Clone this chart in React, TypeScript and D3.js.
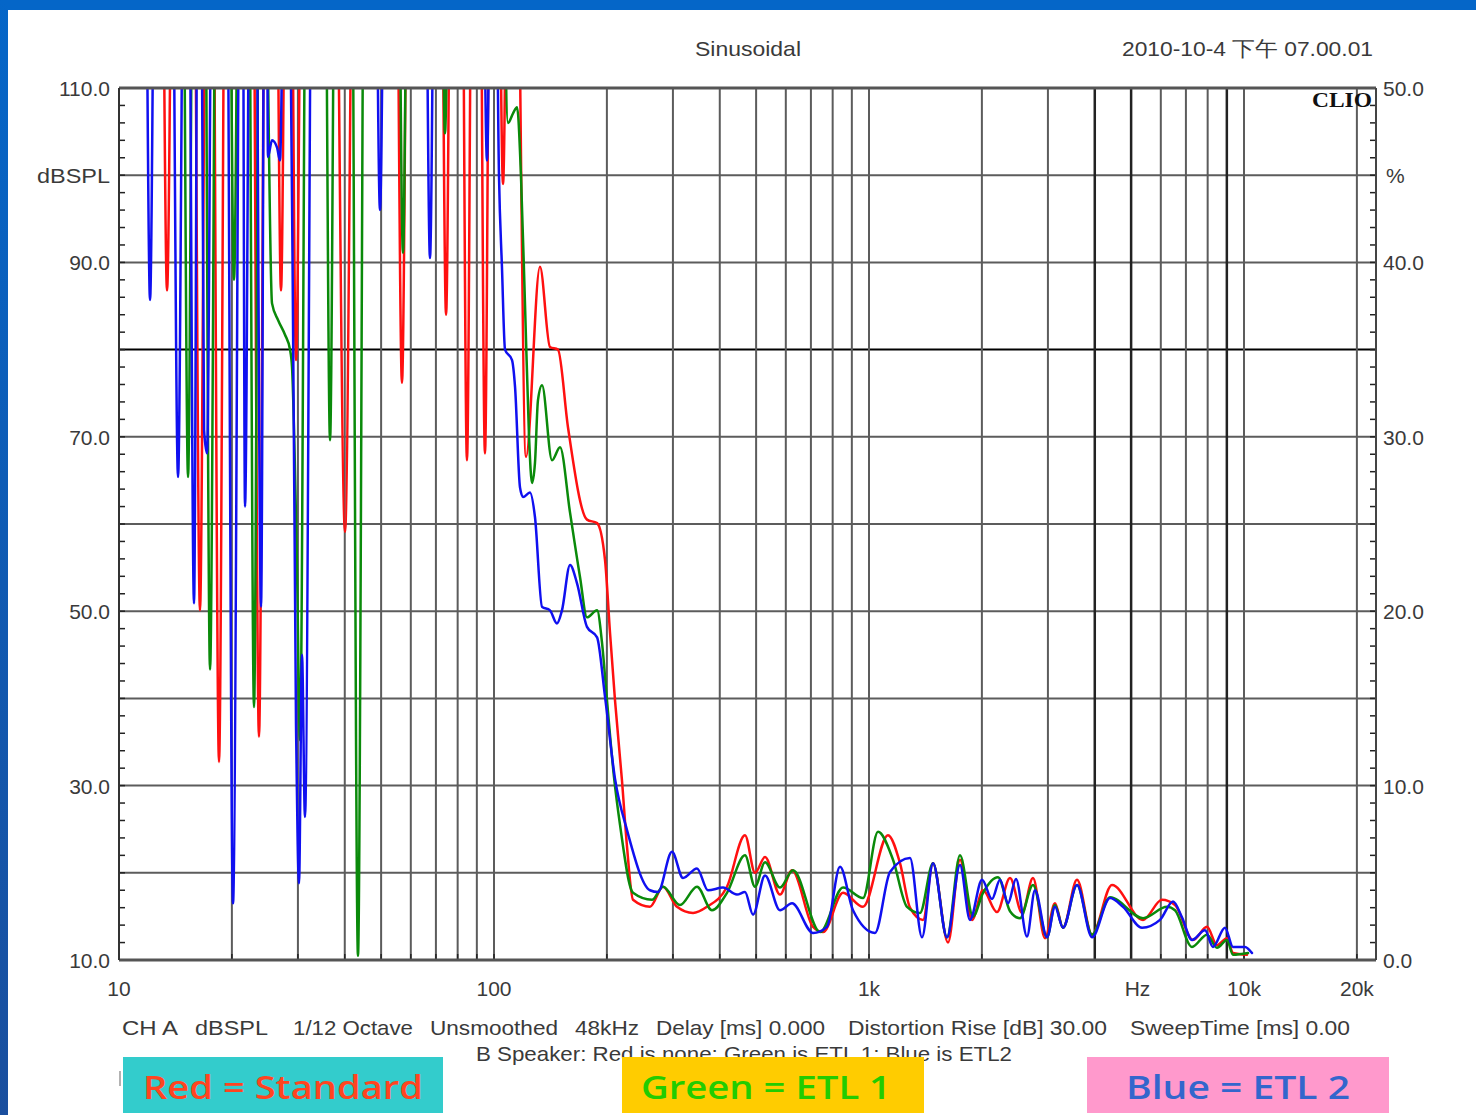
import React from 'react';
import * as d3 from 'd3';

type P = [number, number];
const T = 150; // level above the visible range (clipped)

const RED: P[] = [
  [10, T],
  [12.9, T], [13.43, 86.8], [14.03, T],
  [15.74, T], [16.44, 50.1], [17.2, T],
  [17.68, T], [18.48, 32.7], [19.32, T],
  [22.6, T], [23.62, 35.6], [24.7, T],
  [26.03, T], [27.04, 86.8], [28.09, T],
  [28.54, T], [29.65, 78.8], [31.0, T],
  [37.4, T], [40.06, 59.1], [42.6, T],
  [54.4, T], [56.83, 76.2], [59.4, T],
  [71.7, T], [74.5, 84], [77.4, T],
  [81.6, T], [84.7, 67.3], [88, T],
  [91.1, T], [94.6, 68.1], [98.3, T],
  [101.7, T], [105.7, 99], [109.8, T],
  [113.6, T], [121.7, 67.7],
  [132.6, 89.5], [141, 80.3], [148.1, 80], [157.5, 71.1], [177, 60.5], [188.3, 60.1],
  [197.7, 55.9], [203.9, 47.5], [210.2, 39.8], [219.4, 30.6], [226.3, 23], [234.8, 16.9],
  [260.6, 16.1], [282.3, 18.4], [307.6, 16.1], [339.4, 15.4], [369.8, 16.1], [418.1, 18.4],
  [467, 24.3], [496.6, 20], [528.1, 21.8], [579, 17.5], [623.3, 20.3], [709.2, 13.8],
  [754.1, 13.2], [852.7, 17.7], [963.8, 16.1], [1123.5, 24.3], [1209.7, 21.1], [1286.2, 16],
  [1393.2, 14.6], [1481.5, 21.1], [1624.4, 12], [1748.6, 21.5], [1882.2, 14.6], [2013.9, 18],
  [2194.3, 15.5], [2377, 19.4], [2559, 15.4], [2737, 19.4], [2947, 12.5], [3133, 16.5],
  [3291, 13.7], [3587, 19.2], [3933, 12.9], [4446, 18.6], [5379, 14.6], [6043, 16.9],
  [6546, 16.3], [7311, 12.3], [7967, 13.8], [8472, 11.7], [9009, 12.5], [9348, 10.8], [10186, 10.6],
];

const GREEN: P[] = [
  [10, T],
  [14.7, T], [15.28, 65.4], [15.87, T],
  [16.83, T], [17.49, 43.3], [18.28, T],
  [19.5, T], [20.26, 88], [21.05, T],
  [22.05, T], [22.91, 39], [23.8, T],
  [24.18, T], [25.59, 85.3], [26.55, 83.4], [27.71, 81.7], [28.58, 80], [28.93, 78], [29.83, 55], [30.39, 35.2], [31.76, T],
  [35.17, T], [36.54, 69.6], [37.96, T],
  [41.5, T], [43.38, 10.5], [45.35, T],
  [55.04, T], [57.18, 91.1], [59.4, T],
  [71.7, T], [74.0, 104.8], [76.9, T],
  [103.6, T], [109, 106], [112.4, 107.1], [115.2, 107.8], [118, 100], [121, 85], [124, 70],
  [126.3, 64.7], [128.6, 67], [131.0, 74.2], [134.3, 75.9], [142.8, 67.3], [150, 68.8],
  [159.5, 61.3], [169.6, 53.9], [177, 49.3], [188.3, 50.1], [194.1, 46.4], [200.1, 39.8],
  [208.9, 31], [216.8, 25.5], [234.8, 17.7], [263.8, 16.9], [282.3, 18.4], [313.3, 16.3],
  [347.8, 18.4], [381.3, 15.7], [418.1, 17.7], [467, 22], [496.6, 18.4], [528.1, 21.2],
  [579, 18.3], [627.1, 20.3], [740.3, 13.2], [852.7, 18.3], [963.8, 17.1], [1056.8, 24.7],
  [1158.8, 21.5], [1262.7, 16.1], [1367.7, 15.4], [1481.5, 21.1], [1614.4, 12.6], [1748.6, 22],
  [1893.8, 15], [2013.9, 17.7], [2208, 19.5], [2377, 15.6], [2527, 14.8], [2737, 18.6],
  [2984, 12.6], [3133, 16.3], [3291, 13.7], [3587, 18.6], [3933, 12.9], [4392, 17.2],
  [5379, 14.8], [6233, 16.1], [6546, 15.7], [7266, 11.5], [7967, 12.9], [8472, 11.4],
  [9009, 12.3], [9348, 10.6], [10250, 10.8],
];

const BLUE: P[] = [
  [10, T],
  [11.65, T], [12.1, 85.7], [12.57, T],
  [13.75, T], [14.37, 65.4], [15.01, T],
  [15.25, T], [15.85, 50.9], [16.3, T],
  [16.45, T], [16.86, 70.8], [17.17, 68.1], [17.84, T],
  [19.27, T], [20.14, 16.5], [21.19, T],
  [21.3, T], [21.68, 62], [22.5, T],
  [23.02, T], [23.92, 50.5], [24.55, T],
  [24.7, T], [24.96, 102.1], [25.59, 104], [26.38, 103.2], [26.87, 101.7], [27.9, T],
  [28.2, T], [29.65, 37], [30.2, 18.8], [30.76, 45], [31.33, 26.4], [32.95, T],
  [47.8, T], [49.66, 96], [51.6, T],
  [65, T], [67.5, 90.5], [70.1, T],
  [92.2, T], [95.79, 101.7], [99, T],
  [100, T], [103.1, 100], [105, 89.5], [107, 80], [111.7, 78.8], [113.8, 75.7], [117.3, 64.2],
  [119.5, 63.1], [124.7, 63.6], [128.6, 60.8], [134.3, 50.5], [141, 50.1], [147.2, 48.6],
  [151.8, 50.1], [159.5, 55.3], [166.5, 53.2], [177, 48.2], [188.3, 47], [197.7, 40.2],
  [210.2, 30.8], [226.3, 24.9], [260.6, 18], [273.7, 17.8], [298.3, 22.4], [319.2, 19.4],
  [347.8, 20.5], [372.1, 18], [408, 18.3], [444.6, 17.5], [467, 17.8], [490.6, 15.2],
  [528.1, 19.7], [579, 15.7], [623.3, 16.5], [709.2, 13.1], [772.7, 13.8], [837, 20.7],
  [906.4, 15.7], [1037.5, 13.1], [1137.6, 20.1], [1286.2, 21.7], [1384.6, 12.6], [1481.5, 21.1],
  [1614.4, 12.6], [1748.6, 20.9], [1859.2, 14.6], [2001.8, 19.2], [2128.1, 17], [2235, 19.2],
  [2348, 16.5], [2466, 19.3], [2638, 12.7], [2771, 18], [2984, 12.6], [3133, 16.1],
  [3291, 13.7], [3587, 18.6], [3933, 12.6], [4392, 17.1], [4756, 16.1], [5346, 13.7],
  [5970, 14.6], [6467, 16.7], [6833, 14.9], [7266, 12.3], [7870, 13.4], [8265, 11.5],
  [8898, 13.7], [9348, 11.5], [10062, 11.5], [10503, 10.8],
];

const X_GRID = [20, 30, 40, 50, 60, 70, 80, 90, 100, 200, 300, 400, 500, 600, 700, 800, 900,
  1000, 2000, 3000, 4000, 5000, 6000, 7000, 8000, 9000, 10000, 20000];
const X_GRID_DARK = [4000, 5000, 9000];
const Y_GRID = [20, 30, 40, 50, 60, 70, 80, 90, 100];
const Y_GRID_BLACK = [80];

const LEFT_VALUES = [110, 100, 90, 70, 50, 30, 10];
const LEFT_TEXT = ['110.0', 'dBSPL', '90.0', '70.0', '50.0', '30.0', '10.0'];
const RIGHT_VALUES = [50, 45, 40, 30, 20, 10, 0];
const RIGHT_TEXT = ['50.0', '%', '40.0', '30.0', '20.0', '10.0', '0.0'];
const BOTTOM_FREQ = [10, 100, 1000, 5200, 10000, 20000];
const BOTTOM_TEXT = ['10', '100', '1k', 'Hz', '10k', '20k'];

const INFO_TEXT = ['CH A', 'dBSPL', '1/12 Octave', 'Unsmoothed', '48kHz', 'Delay [ms] 0.000',
  'Distortion Rise [dB] 30.00', 'SweepTime [ms] 0.00'];
const INFO_X = [122, 195, 293, 430, 575, 656, 848, 1130];
const INFO_W = [56, 73, 120, 128, 64, 169, 259, 220];

const SERIES = [
  { name: 'Standard', data: RED, color: '#ff1010' },
  { name: 'ETL 1', data: GREEN, color: '#0a8a0a' },
  { name: 'ETL 2', data: BLUE, color: '#1010f0' },
];

const LEGEND = [
  { text: 'Red = Standard', x: 123, w: 320, bg: '#33cccc', fg: '#ff4420', tx: 143, tw: 280 },
  { text: 'Green = ETL 1', x: 622, w: 302, bg: '#ffcc00', fg: '#22cc00', tx: 641, tw: 250 },
  { text: 'Blue = ETL 2', x: 1087, w: 302, bg: '#ff99cc', fg: '#3366cc', tx: 1126, tw: 224 },
];

export default function App() {
  const PL = 119, PR = 1376, PT = 88, PB = 960;
  const x = d3.scaleLog().domain([10, 22490]).range([PL, PR]);
  const y = d3.scaleLinear().domain([10, 110]).range([PB, PT]);
  const yR = d3.scaleLinear().domain([0, 50]).range([PB, PT]);
  const line = d3.line<P>().x(d => x(d[0])).y(d => y(d[1])).curve(d3.curveMonotoneX);
  const font = '"Liberation Sans", Arial, sans-serif';
  const txt = '#3a3a3a';

  const leftTicks = d3.range(10, 111, 2);
  const rightTicks = d3.range(0, 51, 1);

  return (
    <svg width={1476} height={1115} style={{ position: 'absolute', left: 0, top: 0, display: 'block' }}
      fontFamily={font}>
      <defs>
        <linearGradient id="frame" x1="0" y1="0" x2="0" y2="1">
          <stop offset="0" stopColor="#0566c8" />
          <stop offset="1" stopColor="#1a4f9e" />
        </linearGradient>
        <clipPath id="plotClip">
          <rect x={PL} y={PT} width={PR - PL} height={PB - PT} />
        </clipPath>
      </defs>
      <rect x={0} y={0} width={1476} height={1115} fill="#ffffff" />
      <rect x={0} y={0} width={1476} height={10} fill="#0566c8" />
      <rect x={0} y={0} width={8} height={1115} fill="url(#frame)" />

      {/* header */}
      <text x={748} y={56} fontSize={21} fill={txt} textAnchor="middle" textLength={106} lengthAdjust="spacingAndGlyphs">Sinusoidal</text>
      <text x={1122} y={56} fontSize={21} fill={txt} textLength={251} lengthAdjust="spacingAndGlyphs">2010-10-4 下午 07.00.01</text>

      {/* grid */}
      {Y_GRID.map(v => (
        <line key={'h' + v} x1={PL} x2={PR} y1={y(v)} y2={y(v)}
          stroke={Y_GRID_BLACK.includes(v) ? '#000' : '#5c5c5c'} strokeWidth={2} />
      ))}
      {X_GRID.map(f => (
        <line key={'v' + f} x1={x(f)} x2={x(f)} y1={PT} y2={PB}
          stroke={X_GRID_DARK.includes(f) ? '#222' : '#5c5c5c'} strokeWidth={X_GRID_DARK.includes(f) ? 2.5 : 2} />
      ))}

      {/* ticks */}
      {leftTicks.map(v => (
        <line key={'lt' + v} x1={PL} x2={PL + 6} y1={y(v)} y2={y(v)} stroke="#222" strokeWidth={1.5} />
      ))}
      {rightTicks.map(v => (
        <line key={'rt' + v} x1={PR - 6} x2={PR} y1={yR(v)} y2={yR(v)} stroke="#222" strokeWidth={1.5} />
      ))}
      {X_GRID.map(f => (
        <line key={'bt' + f} x1={x(f)} x2={x(f)} y1={PB} y2={PB - 6} stroke="#222" strokeWidth={1.5} />
      ))}

      {/* curves */}
      <g clipPath="url(#plotClip)">
        {SERIES.map(s => (
          <path key={s.name} d={line(s.data) || ''} fill="none" stroke={s.color} strokeWidth={2.5}
            strokeLinejoin="round" strokeLinecap="round" />
        ))}
      </g>

      {/* frame */}
      <line x1={PL} x2={PR} y1={PT} y2={PT} stroke="#555" strokeWidth={3} />
      <line x1={PL} x2={PR} y1={PB} y2={PB} stroke="#555" strokeWidth={3} />
      <line x1={PL} x2={PL} y1={PT} y2={PB} stroke="#333" strokeWidth={2} />
      <line x1={PR} x2={PR} y1={PT} y2={PB} stroke="#444" strokeWidth={2} />

      <text x={1372} y={107} fontSize={22} fontWeight="bold" fill="#111" textAnchor="end"
        fontFamily='"Liberation Serif", "DejaVu Serif", serif' textLength={60} lengthAdjust="spacingAndGlyphs">CLIO</text>

      {/* axis labels */}
      {LEFT_VALUES.map((v, i) => (
        <text key={'ll' + i} x={110} y={y(v) + 8} fontSize={21} fill={txt} textAnchor="end"
          textLength={LEFT_TEXT[i] === 'dBSPL' ? 73 : undefined}
          lengthAdjust={LEFT_TEXT[i] === 'dBSPL' ? 'spacingAndGlyphs' : undefined}>{LEFT_TEXT[i]}</text>
      ))}
      {RIGHT_VALUES.map((v, i) => (
        <text key={'rl' + i} x={RIGHT_TEXT[i] === '%' ? 1386 : 1383} y={yR(v) + 8} fontSize={21} fill={txt}>{RIGHT_TEXT[i]}</text>
      ))}
      {BOTTOM_FREQ.map((f, i) => (
        <text key={'bl' + i} x={x(f)} y={996} fontSize={21} fill={txt} textAnchor="middle">{BOTTOM_TEXT[i]}</text>
      ))}

      {/* info */}
      {INFO_TEXT.map((t, i) => (
        <text key={'in' + i} x={INFO_X[i]} y={1035} fontSize={21} fill={txt}
          textLength={INFO_W[i]} lengthAdjust="spacingAndGlyphs">{t}</text>
      ))}
      <text x={476} y={1061} fontSize={21} fill={txt} textLength={536} lengthAdjust="spacingAndGlyphs">
        B Speaker: Red is none; Green is ETL 1; Blue is ETL2
      </text>
      <line x1={120} x2={120} y1={1071} y2={1086} stroke="#999" strokeWidth={1.5} />

      {/* legend boxes */}
      {LEGEND.map(l => (
        <g key={l.text}>
          <rect x={l.x} y={1057} width={l.w} height={56} fill={l.bg} />
          <text x={l.tx} y={1099} fontSize={32} fontWeight={600} fill={l.fg}
            fontFamily='"Open Sans", "Noto Sans", sans-serif'
            textLength={l.tw} lengthAdjust="spacingAndGlyphs">{l.text}</text>
        </g>
      ))}
    </svg>
  );
}
